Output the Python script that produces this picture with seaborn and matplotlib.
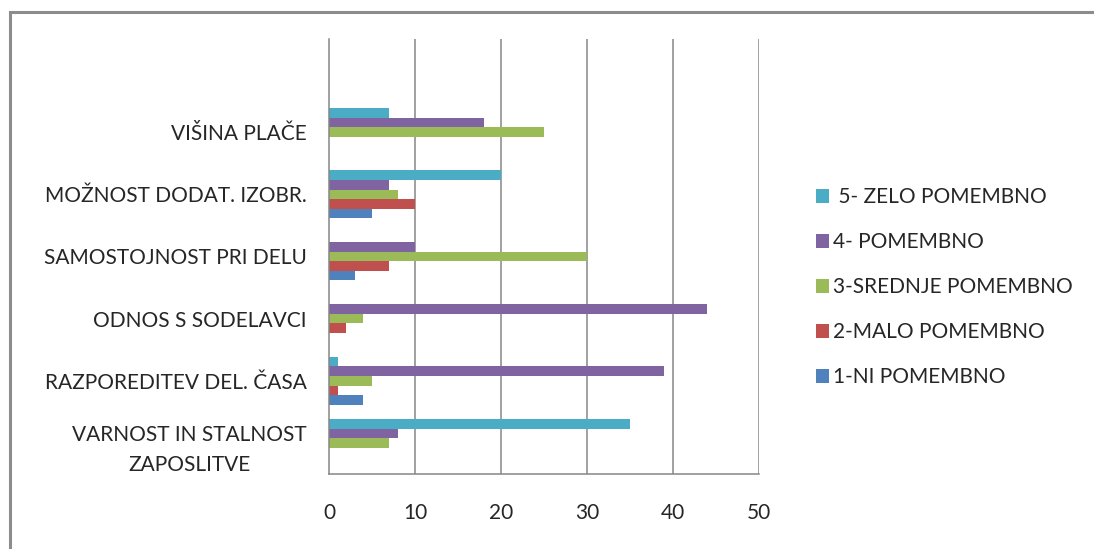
import numpy as np
import pandas as pd
import matplotlib
matplotlib.use("Agg")
import matplotlib.pyplot as plt
import seaborn as sns
from matplotlib.patches import Rectangle, Patch

categories = ["VIŠINA PLAČE", "MOŽNOST DODAT. IZOBR.", "SAMOSTOJNOST PRI DELU",
              "ODNOS S SODELAVCI", "RAZPOREDITEV DEL. ČASA",
              "VARNOST IN STALNOST\nZAPOSLITVE"]
series_names = [" 5- ZELO POMEMBNO", "4- POMEMBNO", "3-SREDNJE POMEMBNO",
                "2-MALO POMEMBNO", "1-NI POMEMBNO"]
v5 = [7, 20, 0, 0, 1, 35]
v4 = [18, 7, 10, 44, 39, 8]
v3 = [25, 8, 30, 4, 5, 7]
v2 = [0, 10, 7, 2, 1, 0]
v1 = [0, 5, 3, 0, 4, 0]
x_ticks = [0, 10, 20, 30, 40, 50]
colors = ["#4BACC6", "#8064A2", "#9BBB59", "#C0504D", "#4F81BD"]

rows = []
for name, vals in zip(series_names, [v5, v4, v3, v2, v1]):
    for c, v in zip(categories, vals):
        rows.append({"cat": c, "series": name, "value": v})
df = pd.DataFrame(rows)

sns.set_style("white")
plt.rcParams["font.family"] = ["Lato", "DejaVu Sans"]

W, H = 1094, 549
FS = 15
fig = plt.figure(figsize=(W / 100, H / 100), dpi=100)
ax = fig.add_axes([329 / W, 1 - 474 / H, (758.7 - 329) / W, (474 - 39) / H])

sns.barplot(data=df, y="cat", x="value", hue="series", order=categories,
            hue_order=series_names, palette=colors, orient="h",
            width=5 / 6.5, gap=0, linewidth=0, saturation=1, ax=ax, legend=False)

ax.set_xlim(0, 50)
ax.set_ylim(len(categories) - 0.5, -1.5)
ax.set_xticks(x_ticks)
ax.set_xticklabels([str(t) for t in x_ticks], fontsize=FS, color="#262626")
ax.set_xlabel("")
ax.set_ylabel("")

gray = "#868686"
ax.grid(False)
for t in x_ticks[1:]:
    ax.axvline(t, color=gray, lw=1.1, zorder=0)
for s in ["top", "right"]:
    ax.spines[s].set_visible(False)
for s in ["left", "bottom"]:
    ax.spines[s].set_color(gray)
    ax.spines[s].set_linewidth(1.1)

ax.set_yticks(np.arange(len(categories)))
ax.set_yticklabels(categories, fontsize=FS, color="#262626", ha="right")
for lab in ax.get_yticklabels():
    lab.set_multialignment("center")
    lab.set_linespacing(1.65)
ax.tick_params(axis="y", length=0, pad=16)
ax.set_yticks(np.arange(-1.5, len(categories), 1.0), minor=True)
ax.tick_params(axis="y", which="minor", length=9, color=gray, width=1.1, direction="out")
ax.tick_params(axis="x", length=8, color=gray, width=1.1, direction="out", pad=13)

handles = [Patch(facecolor=c, edgecolor="none") for c in colors]
fig.legend(handles, series_names, loc="upper left", bbox_to_anchor=(808 / W, 1 - 179 / H),
           frameon=False, fontsize=FS, handlelength=0.62, handleheight=0.62,
           handletextpad=0.2, labelspacing=1.2, borderaxespad=0,
           labelcolor="#262626")

fig.patches.append(Rectangle((10 / W, -0.1), 1.2, 1 - 12 / H + 0.1,
                             transform=fig.transFigure, fill=False,
                             edgecolor="#8c8c8c", lw=2.2))

fig.savefig("out.png", dpi=100)
